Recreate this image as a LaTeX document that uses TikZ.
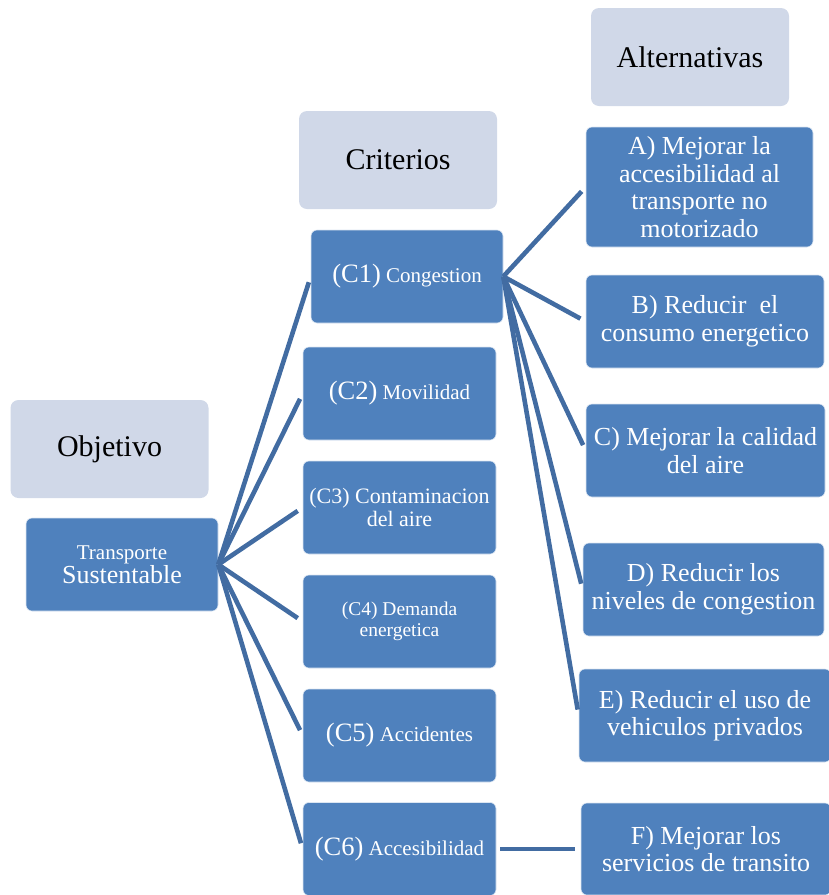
\documentclass[tikz,border=0pt]{standalone}
\usepackage{fontspec}
\setmainfont{Liberation Serif}
\usepackage{xcolor}
\definecolor{boxblue}{RGB}{79,129,189}
\definecolor{lineblue}{RGB}{66,108,162}
\definecolor{headgray}{RGB}{208,216,232}

\begin{document}
\begin{tikzpicture}[x=1pt, y=-1pt,
    header/.style={rectangle, rounded corners=8pt, fill=headgray, text=black, font=\fontsize{30}{32}\selectfont, inner sep=0pt, minimum width=198pt, minimum height=98pt},
    bluebox/.style={rectangle, rounded corners=6pt, fill=boxblue, draw=white!80!boxblue, line width=0.6pt, text=white, align=center, inner sep=0pt, minimum height=93pt},
    crit/.style={bluebox, minimum width=193pt, font=\fontsize{21}{23}\selectfont},
    alt/.style={bluebox, font=\fontsize{26}{27.5}\selectfont},
    link/.style={draw=lineblue, line width=4.6pt, shorten >=6pt}]
            \useasboundingbox (0,0) rectangle (829,895);
            % Column headers
            \node[header] (objetivo) at (109.5,449) {Objetivo};
            \node[header] (criterios) at (398,160) {Criterios};
            \node[header] (alternativas) at (690,57) {Alternativas};

            % Objective
            \node[bluebox, minimum width=192pt] (transporte) at (122,564.5) {{\fontsize{21}{24}\selectfont Transporte}\\{\fontsize{26}{26}\selectfont Sustentable}};

            % Criteria
            \node[crit, minimum width=192pt] (c1) at (407,276.5) {{\fontsize{26.5}{28}\selectfont (C1)} Congestion};
            \node[crit] (c2) at (399.5,393.5) {{\fontsize{26.5}{28}\selectfont (C2)} Movilidad};
            \node[crit, font=\fontsize{22}{22.5}\selectfont] (c3) at (399.5,507.5) {(C3) Contaminacion\\del aire};
            \node[crit, font=\fontsize{19.5}{20.5}\selectfont] (c4) at (399.5,621.5) {(C4) Demanda\\energetica};
            \node[crit] (c5) at (399.5,735.5) {{\fontsize{26.5}{28}\selectfont (C5)} Accidentes};
            \node[crit] (c6) at (399.5,849) {{\fontsize{26.5}{28}\selectfont (C6)} Accesibilidad};

            % Alternatives
            \node[alt, minimum width=227pt, minimum height=120pt] (altA) at (699.5,187) {A) Mejorar la\\accesibilidad al\\transporte no\\motorizado};
            \node[alt, minimum width=238pt] (altB) at (705,321.5) {B) Reducir~ el\\consumo energetico};
            \node[alt, minimum width=239pt] (altC) at (705.5,450.5) {C) Mejorar la calidad\\del aire};
            \node[alt, minimum width=241pt] (altD) at (703.5,589.5) {D) Reducir los\\niveles de congestion};
            \node[alt, minimum width=252pt] (altE) at (705,715.5) {E) Reducir el uso de\\vehiculos privados};
            \node[alt, minimum width=250pt, minimum height=92pt] (altF) at (706,849) {F) Mejorar los\\servicios de transito};

            \draw[link] (transporte.east) -- (c1.west);
            \draw[link] (transporte.east) -- (c2.west);
            \draw[link] (transporte.east) -- (c3.west);
            \draw[link] (transporte.east) -- (c4.west);
            \draw[link] (transporte.east) -- (c5.west);
            \draw[link] (transporte.east) -- (c6.west);

            \draw[link] (c1.east) -- (altA.west);
            \draw[link] (c1.east) -- (altB.west);
            \draw[link] (c1.east) -- (altC.west);
            \draw[link] (c1.east) -- (altD.west);
            \draw[link] (c1.east) -- (altE.west);
            \draw[link, shorten <=4pt] (c6.east) -- (altF.west);
        \end{tikzpicture}
\end{document}
